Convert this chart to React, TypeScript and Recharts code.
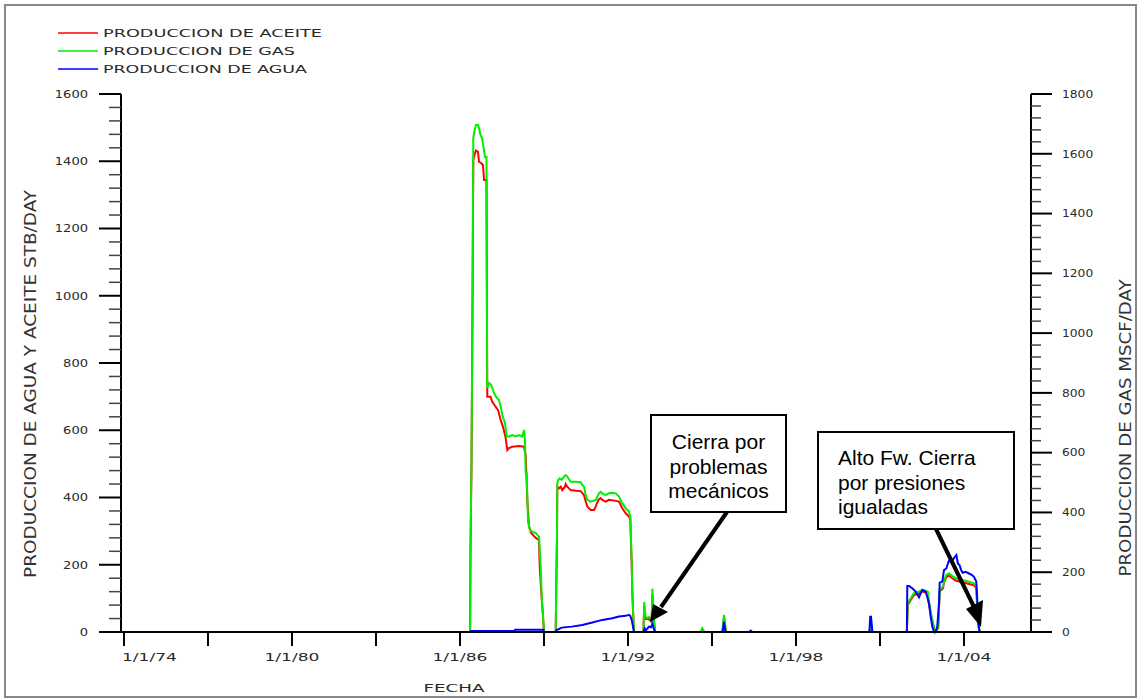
import React from "react";
import { LineChart, Line, XAxis, YAxis } from "recharts";

// fechas en años decimales, tasas
const oilDates = [
  1973.9, 1986.36, 1986.375, 1986.411, 1986.446, 1986.475, 1986.518, 1986.571, 1986.643, 1986.679, 1986.75, 1986.82,
  1986.86, 1986.946, 1986.96, 1986.975, 1987.09, 1987.15, 1987.27, 1987.36, 1987.454, 1987.536, 1987.632, 1987.69,
  1987.75, 1987.868, 1988.107, 1988.286, 1988.346, 1988.404, 1988.464, 1988.546, 1988.704, 1988.821, 1988.846,
  1988.918, 1988.964, 1989.0, 1989.418, 1989.439, 1989.464, 1989.475, 1989.536, 1989.596, 1989.654, 1989.75,
  1989.775, 1989.832, 1989.954, 1990.132, 1990.311, 1990.429, 1990.489, 1990.546, 1990.668, 1990.786, 1990.846,
  1990.94, 1991.025, 1991.082, 1991.204, 1991.321, 1991.561, 1991.679, 1991.796, 1991.918, 1992.036, 1992.082,
  1992.107, 1992.132, 1992.154, 1992.179, 1992.214, 1992.55, 1992.58, 1992.62, 1992.75, 1992.846, 1992.87, 1992.91,
  1992.97, 1994.6, 1994.654, 1994.72, 1995.37, 1995.43, 1995.5, 2000.62, 2000.66, 2000.72, 2001.96, 2001.99,
  2002.096, 2002.214, 2002.393, 2002.511, 2002.632, 2002.71, 2002.74, 2002.843, 2002.964, 2003.08, 2003.13, 2003.25,
  2003.286, 2003.368, 2003.464, 2003.582, 2003.704, 2003.821, 2003.939, 2004.179, 2004.357, 2004.439, 2004.475,
  2004.536, 2004.57, 2006.39,
];
const oilRates = [
  0, 0, 240, 500, 950, 1404, 1419, 1432, 1428, 1399, 1395, 1389,
  1344, 1344, 1000, 700, 700, 685, 670, 660, 630, 610, 577, 541,
  547, 551, 553, 551, 526, 393, 314, 294, 280, 274, 195,
  100, 48, 0, 0, 135, 280, 432, 427, 432, 422, 432,
  440, 432, 422, 420, 419, 407, 388, 373, 363, 363, 373,
  393, 398, 393, 388, 393, 390, 388, 368, 353, 343, 335,
  265, 200, 122, 64, 0, 0, 78, 40, 38, 30, 112, 45,
  0, 0, 9, 0, 0, 45, 0, 0, 14, 0, 0, 80,
  95, 110, 115, 120, 117, 114, 88, 40, 0, 12, 120, 130,
  148, 163, 168, 160, 153, 150, 148, 143, 139, 130, 72,
  6, 0, 0,
];

const gasDates = [
  1973.9, 1986.36, 1986.375, 1986.411, 1986.446, 1986.475, 1986.518, 1986.571, 1986.643, 1986.679, 1986.732, 1986.786,
  1986.839, 1986.893, 1986.946, 1986.96, 1986.97, 1987.036, 1987.118, 1987.214, 1987.296, 1987.393, 1987.454, 1987.511,
  1987.607, 1987.668, 1987.75, 1987.868, 1987.989, 1988.107, 1988.225, 1988.286, 1988.321, 1988.346, 1988.382,
  1988.429, 1988.5, 1988.582, 1988.704, 1988.821, 1988.882, 1988.918, 1988.964, 1989.0, 1989.418, 1989.439,
  1989.464, 1989.475, 1989.511, 1989.561, 1989.632, 1989.714, 1989.775, 1989.832, 1989.893, 1989.954, 1990.132,
  1990.311, 1990.368, 1990.429, 1990.489, 1990.546, 1990.668, 1990.846, 1990.964, 1991.025, 1991.082, 1991.204,
  1991.321, 1991.439, 1991.561, 1991.679, 1991.796, 1991.918, 1992.036, 1992.082, 1992.107, 1992.132, 1992.154,
  1992.179, 1992.214, 1992.55, 1992.58, 1992.62, 1992.689, 1992.75, 1992.846, 1992.87, 1992.91, 1992.97, 1994.6,
  1994.654, 1994.72, 1995.37, 1995.43, 1995.5, 2000.62, 2000.66, 2000.72, 2001.96, 2001.99, 2002.096, 2002.214,
  2002.393, 2002.511, 2002.632, 2002.71, 2002.736, 2002.843, 2002.964, 2003.08, 2003.13, 2003.25, 2003.286, 2003.368,
  2003.464, 2003.582, 2003.704, 2003.821, 2003.939, 2004.179, 2004.357, 2004.439, 2004.475, 2004.536, 2004.57,
  2006.39,
];
const gasRates = [
  0, 0, 281, 575, 1111, 1653, 1676, 1696, 1696, 1686, 1663, 1653,
  1623, 1589, 1589, 1150, 816, 833, 826, 800, 786, 776, 754, 726,
  699, 654, 654, 659, 654, 659, 654, 676, 642, 532, 532,
  369, 341, 336, 331, 319, 218, 118, 57, 0, 0, 157,
  324, 497, 509, 514, 509, 520, 525, 520, 511, 503, 503,
  501, 492, 486, 458, 442, 436, 442, 464, 469, 464, 458,
  464, 466, 464, 453, 431, 414, 402, 386, 308, 231, 141,
  74, 0, 0, 100, 52, 47, 50, 40, 145, 60, 0, 0,
  12, 0, 0, 57, 0, 0, 18, 0, 0, 96, 113, 130,
  135, 141, 138, 135, 107, 51, 0, 18, 141, 152, 174, 191,
  196, 187, 180, 176, 174, 168, 163, 152, 85, 8, 0,
  0,
];

const waterDates = [
  1973.9, 1986.39, 1986.4, 1987.95, 1987.97, 1988.98, 1989.0, 1989.418, 1989.45, 1989.632, 1989.99, 1990.37,
  1990.725, 1991.082, 1991.44, 1991.679, 1991.918, 1992.036, 1992.082, 1992.132, 1992.179, 1992.214, 1992.55, 1992.6,
  1992.632, 1992.75, 1992.82, 1992.87, 1992.93, 1992.97, 1995.38, 1995.43, 1995.48, 1996.33, 1996.38, 1996.44,
  2000.62, 2000.65, 2000.68, 2000.73, 2001.96, 2001.975, 2002.036, 2002.154, 2002.275, 2002.393, 2002.454, 2002.511,
  2002.632, 2002.686, 2002.75, 2002.811, 2002.868, 2002.929, 2002.989, 2003.046, 2003.107, 2003.132, 2003.225,
  2003.286, 2003.368, 2003.46, 2003.52, 2003.6, 2003.66, 2003.73, 2003.78, 2003.84, 2003.9, 2003.95,
  2004.061, 2004.179, 2004.275, 2004.357, 2004.439, 2004.475, 2004.511, 2004.561, 2006.39,
];
const waterRates = [
  0, 0, 3, 3, 7, 7, 0, 0, 6, 13, 16, 21,
  28, 36, 41, 46, 48, 51, 48, 36, 16, 0, 0, 10,
  4, 16, 14, 24, 8, 0, 0, 30, 0, 0, 4, 0,
  0, 45, 45, 0, 0, 137, 137, 130, 120, 103, 115, 125,
  120, 105, 85, 45, 16, 0, 0, 16, 85, 147, 150,
  184, 189, 212, 209, 214, 222, 229, 204, 199, 184, 176,
  179, 174, 170, 164, 150, 95, 26, 0, 0,
];

const xTickYears = [1974, 1977, 1980, 1983, 1986, 1989, 1992, 1995, 1998, 2001, 2004];
const xLabelYears = [1974, 1980, 1986, 1992, 1998, 2004];
const xLabelTexts = ["1/1/74", "1/1/80", "1/1/86", "1/1/92", "1/1/98", "1/1/04"];
const leftLabels = [0, 200, 400, 600, 800, 1000, 1200, 1400, 1600];
const rightLabels = [0, 200, 400, 600, 800, 1000, 1200, 1400, 1600, 1800];

const series = [
  { name: "PRODUCCION DE ACEITE", color: "#ff0000", len: 219 },
  { name: "PRODUCCION DE GAS", color: "#00ee00", len: 192 },
  { name: "PRODUCCION DE AGUA", color: "#0000ff", len: 204 },
];

const toRows = (dates: number[], vals: number[]) => dates.map((t, i) => ({ t, v: vals[i] }));
const oilData = toRows(oilDates, oilRates);
const gasData = toRows(gasDates, gasRates);
const waterData = toRows(waterDates, waterRates);

const withMinor = (labels: number[]) => {
  const out: number[] = [];
  labels.forEach((v, i) => {
    out.push(v);
    if (i < labels.length - 1) for (let k = 1; k < 5; k++) out.push(v + k * 40);
  });
  return out;
};
const leftTicks = withMinor(leftLabels);
const rightTicks = withMinor(rightLabels);

const txt = { fontFamily: "'DejaVu Sans', sans-serif", fill: "#2a2a2a" };
const condensed = { fontFamily: "'DejaVu Sans Condensed', 'Liberation Sans Narrow', 'DejaVu Sans', sans-serif", fill: "#333" };

function LeftTick(props: any) {
  const { x, y, payload } = props;
  const major = payload.value % 200 === 0;
  const s = String(payload.value);
  return (
    <g>
      <line x1={x - (major ? 22 : 12)} x2={x} y1={y} y2={y} stroke={major ? "#000" : "#444"} strokeWidth={major ? 2 : 1.5} />
      {major && (
        <text x={88} y={y} dy="0.36em" textAnchor="end" fontSize={10.5} textLength={s.length * 8.3} lengthAdjust="spacingAndGlyphs" {...txt}>
          {s}
        </text>
      )}
    </g>
  );
}

function RightTick(props: any) {
  const { x, y, payload } = props;
  const major = payload.value % 200 === 0;
  const s = String(payload.value);
  return (
    <g>
      <line x1={x} x2={x + (major ? 21 : 10)} y1={y} y2={y} stroke={major ? "#000" : "#444"} strokeWidth={major ? 2 : 1.5} />
      {major && (
        <text x={1062} y={y} dy="0.36em" textAnchor="start" fontSize={10.5} textLength={s.length * 7.8} lengthAdjust="spacingAndGlyphs" {...txt}>
          {s}
        </text>
      )}
    </g>
  );
}

function BottomTick(props: any) {
  const { x, y, payload } = props;
  const idx = xLabelYears.indexOf(payload.value);
  return (
    <g>
      <line x1={x} x2={x} y1={y} y2={y + 14} stroke="#000" strokeWidth={2} />
      {idx >= 0 && (
        <text
          x={idx === 0 ? x - 2 : x}
          y={y + 29}
          textAnchor={idx === 0 ? "start" : "middle"}
          fontSize={11}
          textLength={55}
          lengthAdjust="spacingAndGlyphs"
          {...txt}
        >
          {xLabelTexts[idx]}
        </text>
      )}
    </g>
  );
}

export default function App() {
  return (
    <div style={{ position: "absolute", left: 0, top: 0, width: 1140, height: 700, background: "#fff" }}>
      <LineChart width={1140} height={700} margin={{ top: 94, right: 9, bottom: 8, left: 21 }}>
        <XAxis
          dataKey="t"
          type="number"
          domain={[1973.893, 2006.393]}
          allowDataOverflow
          ticks={xTickYears}
          interval={0}
          tick={<BottomTick />}
          tickLine={false}
          tickSize={0}
          tickMargin={0}
          height={60}
          axisLine={{ stroke: "#000", strokeWidth: 2 }}
        />
        <YAxis
          yAxisId="left"
          type="number"
          domain={[0, 1600]}
          ticks={leftTicks}
          interval={0}
          tick={<LeftTick />}
          tickLine={false}
          tickSize={0}
          tickMargin={0}
          width={100}
          axisLine={{ stroke: "#000", strokeWidth: 2 }}
        />
        <YAxis
          yAxisId="right"
          orientation="right"
          type="number"
          domain={[0, 1800]}
          ticks={rightTicks}
          interval={0}
          tick={<RightTick />}
          tickLine={false}
          tickSize={0}
          tickMargin={0}
          width={100}
          axisLine={{ stroke: "#000", strokeWidth: 2 }}
        />
        <Line data={oilData} dataKey="v" yAxisId="left" type="linear" stroke="#ff0000" strokeWidth={2} dot={false} isAnimationActive={false} />
        <Line data={gasData} dataKey="v" yAxisId="right" type="linear" stroke="#00ee00" strokeWidth={2} dot={false} isAnimationActive={false} />
        <Line data={waterData} dataKey="v" yAxisId="left" type="linear" stroke="#0000ff" strokeWidth={2} dot={false} isAnimationActive={false} />
      </LineChart>

      <svg width={1140} height={700} style={{ position: "absolute", left: 0, top: 0, pointerEvents: "none" }}>
        <rect x={5} y={5} width={1131} height={692} fill="none" stroke="#888" strokeWidth={2} />

        {series.map((s, i) => (
          <g key={s.name}>
            <line x1={58} x2={98} y1={33 + i * 18} y2={33 + i * 18} stroke={s.color} strokeWidth={1.5} />
            <text x={103} y={33 + i * 18} dy="0.36em" fontSize={11} textLength={s.len} lengthAdjust="spacingAndGlyphs" {...txt}>
              {s.name}
            </text>
          </g>
        ))}

        <text x={454} y={692} textAnchor="middle" fontSize={11} textLength={61} lengthAdjust="spacingAndGlyphs" {...txt}>
          FECHA
        </text>
        <text transform="translate(36,384) rotate(-90)" textAnchor="middle" fontSize={15} textLength={388} lengthAdjust="spacingAndGlyphs" {...condensed}>
          PRODUCCION DE AGUA Y ACEITE  STB/DAY
        </text>
        <text transform="translate(1131,428) rotate(-90)" textAnchor="middle" fontSize={15} textLength={297} lengthAdjust="spacingAndGlyphs" {...condensed}>
          PRODUCCION DE GAS  MSCF/DAY
        </text>

        <g fontFamily="'Liberation Sans', Arial, sans-serif" fontSize={21} fill="#000">
          <rect x={651} y={415} width={135} height={97} fill="#fff" stroke="#000" strokeWidth={2} />
          <text x={718.5} y={448.5} textAnchor="middle">Cierra por</text>
          <text x={718.5} y={474} textAnchor="middle">problemas</text>
          <text x={718.5} y={498} textAnchor="middle">mecánicos</text>
          <line x1={727} y1={512} x2={661} y2={607} stroke="#000" strokeWidth={4} />
          <polygon points="650,622 653,604 668,612" fill="#000" />

          <rect x={818} y={432} width={196} height={97} fill="#fff" stroke="#000" strokeWidth={2} />
          <text x={838} y={465}>Alto Fw. Cierra</text>
          <text x={838} y={489.5}>por presiones</text>
          <text x={838} y={514}>igualadas</text>
          <line x1={936} y1={529} x2={974} y2={607} stroke="#000" strokeWidth={4} />
          <polygon points="981,627 966,609 983,600" fill="#000" />
        </g>
      </svg>
    </div>
  );
}
